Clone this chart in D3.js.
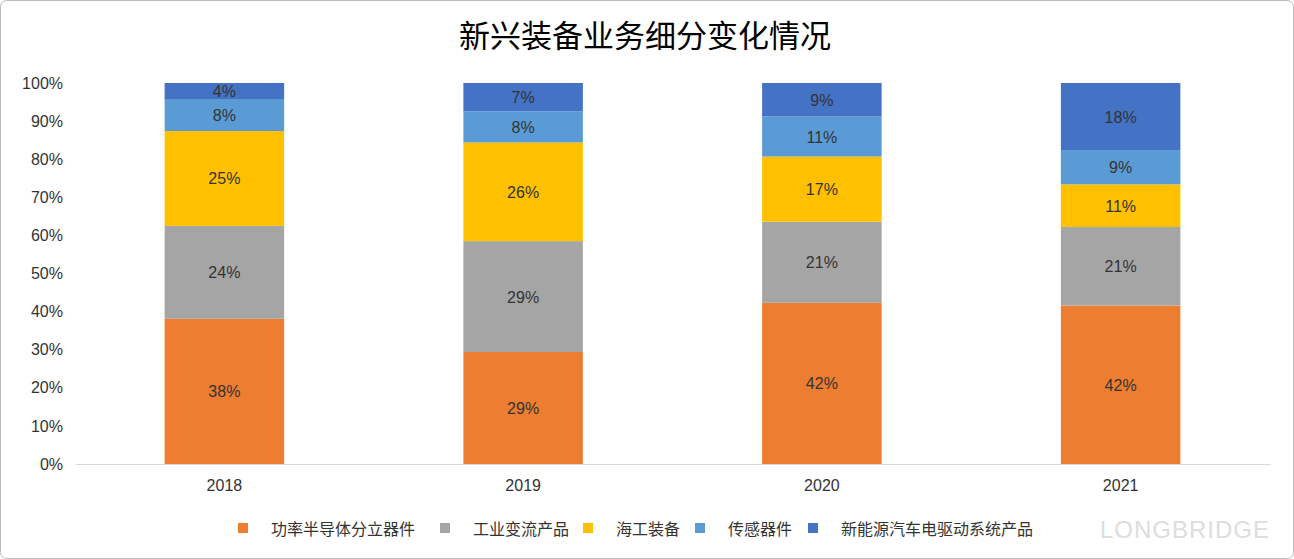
<!DOCTYPE html>
<html><head><meta charset="utf-8">
<script src="https://cdn.jsdelivr.net/npm/d3@7"></script>
<style>body{margin:0;background:#fff;font-family:"Noto Sans CJK SC","Noto Sans",sans-serif}</style>
</head><body><svg id="c" width="1294" height="559"></svg>
<script>
const categories=["2018","2019","2020","2021"];
const seriesNames=["功率半导体分立器件","工业变流产品","海工装备","传感器件","新能源汽车电驱动系统产品"];
const colors=["#ED7D31","#A5A5A5","#FFC000","#5B9BD5","#4472C4"];
const s0=[38.1,29.4,42.3,41.6];
const s1=[24.4,29.1,21.3,20.6];
const s2=[24.9,25.9,17.1,11.2];
const s3=[8.4,8.2,10.5,9.0];
const s4=[4.2,7.4,8.8,17.6];
const yTicks=[0,10,20,30,40,50,60,70,80,90,100];
const series=[s0,s1,s2,s3,s4];

const svg=d3.select("#c");
svg.append("rect").attr("x",0.5).attr("y",0.5).attr("width",1293).attr("height",558).attr("rx",6).attr("fill","#fff").attr("stroke","#bbb");
svg.append("text").attr("x",645).attr("y",47).attr("text-anchor","middle").attr("font-size",31).attr("fill","#000").text("新兴装备业务细分变化情况");

const x=d3.scaleBand().domain(categories).range([75,1270]).paddingInner(0.6).paddingOuter(0.3);
const y=d3.scaleLinear().domain([0,100]).range([464,83]);

const ya=svg.append("g").attr("transform","translate(75,0)")
 .call(d3.axisLeft(y).tickValues(yTicks).tickFormat(d=>d+"%").tickSize(0).tickPadding(12));
ya.select(".domain").remove();
ya.selectAll("text").attr("font-size",16).attr("fill","#333").attr("font-family","Helvetica,Arial,sans-serif");

const data=categories.map((c,i)=>{const o={cat:c};seriesNames.forEach((n,j)=>o[n]=series[j][i]);return o;});
const stack=d3.stack().keys(seriesNames)(data);
stack.forEach((layer,j)=>{
 const g=svg.append("g");
 g.selectAll("rect").data(layer).join("rect")
  .attr("x",d=>x(d.data.cat)).attr("width",x.bandwidth())
  .attr("y",d=>y(d[1])).attr("height",d=>y(d[0])-y(d[1])).attr("fill",colors[j]);
 g.selectAll("text").data(layer).join("text")
  .attr("x",d=>x(d.data.cat)+x.bandwidth()/2).attr("y",d=>(y(d[0])+y(d[1]))/2+6)
  .attr("text-anchor","middle").attr("font-size",16).attr("fill","#333").attr("font-family","Helvetica,Arial,sans-serif")
  .text(d=>Math.round(d[1]-d[0])+"%");
});

const xa=svg.append("g").attr("transform","translate(0,464)").call(d3.axisBottom(x).tickSize(0).tickPadding(16));
xa.select(".domain").attr("stroke","#d9d9d9");
xa.selectAll("text").attr("font-size",16).attr("fill","#333").attr("font-family","Helvetica,Arial,sans-serif");

const lx=[238,440,583,695,808];
seriesNames.forEach((n,j)=>{
 svg.append("rect").attr("x",lx[j]).attr("y",523).attr("width",10).attr("height",10).attr("fill",colors[j]);
 svg.append("text").attr("x",lx[j]+33).attr("y",535).attr("font-size",16).attr("fill","#333").text(n);
});
svg.append("text").attr("x",1270).attr("y",538).attr("text-anchor","end").attr("font-size",24).attr("fill","#ddd").attr("letter-spacing",1).attr("font-family","Helvetica,Arial,sans-serif").text("LONGBRIDGE");
</script></body></html>
